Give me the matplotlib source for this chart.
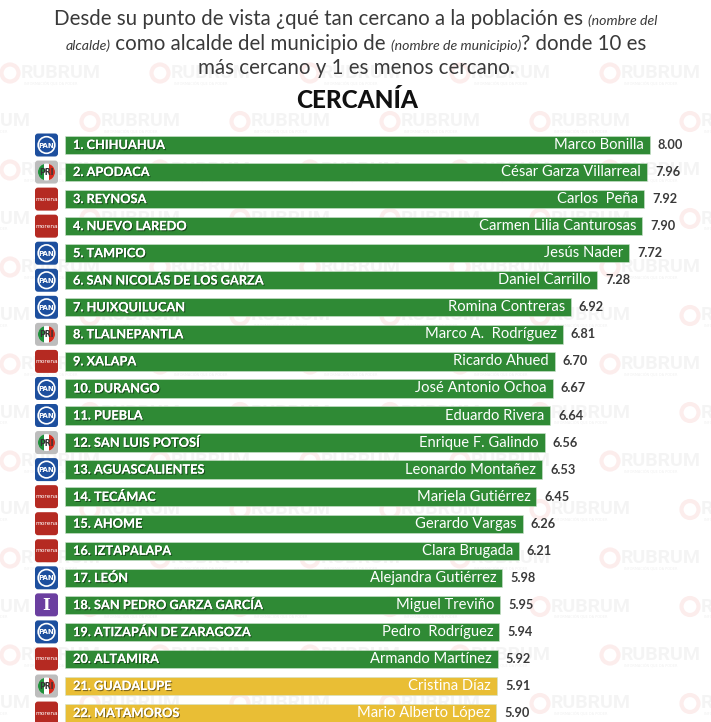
import matplotlib.pyplot as plt
import matplotlib.patches as mpatches
import matplotlib.patheffects as pe

# datos
ciudades = ['CHIHUAHUA', 'APODACA', 'REYNOSA', 'NUEVO LAREDO', 'TAMPICO',
            'SAN NICOLÁS DE LOS GARZA', 'HUIXQUILUCAN', 'TLALNEPANTLA', 'XALAPA',
            'DURANGO', 'PUEBLA', 'SAN LUIS POTOSÍ', 'AGUASCALIENTES', 'TECÁMAC',
            'AHOME', 'IZTAPALAPA', 'LEÓN', 'SAN PEDRO GARZA GARCÍA',
            'ATIZAPÁN DE ZARAGOZA', 'ALTAMIRA', 'GUADALUPE', 'MATAMOROS']
alcaldes = ['Marco Bonilla', 'César Garza Villarreal', 'Carlos  Peña',
            'Carmen Lilia Canturosas', 'Jesús Nader', 'Daniel Carrillo',
            'Romina Contreras', 'Marco A.  Rodríguez', 'Ricardo Ahued',
            'José Antonio Ochoa', 'Eduardo Rivera', 'Enrique F. Galindo',
            'Leonardo Montañez', 'Mariela Gutiérrez', 'Gerardo Vargas',
            'Clara Brugada', 'Alejandra Gutiérrez', 'Miguel Treviño',
            'Pedro  Rodríguez', 'Armando Martínez', 'Cristina Díaz',
            'Mario Alberto López']
valores = [8.00, 7.96, 7.92, 7.90, 7.72, 7.28, 6.92, 6.81, 6.70, 6.67, 6.64,
           6.56, 6.53, 6.45, 6.26, 6.21, 5.98, 5.95, 5.94, 5.92, 5.91, 5.90]
partidos = ['PAN', 'PRI', 'MORENA', 'MORENA', 'PAN', 'PAN', 'PAN', 'PRI',
            'MORENA', 'PAN', 'PAN', 'PRI', 'PAN', 'MORENA', 'MORENA', 'MORENA',
            'PAN', 'IND', 'PAN', 'MORENA', 'PRI', 'MORENA']
grupo = ['verde'] * 20 + ['amarillo'] * 2

VERDE = '#2F8A35'
AMARILLO = '#E9BE35'
GRIS = '#3a3a3a'
W, H = 711, 722

fig = plt.figure(figsize=(W / 100, H / 100), dpi=100)
fig.patch.set_facecolor('white')

# fondo en pixeles (marcas de agua y logos)
ax_bg = fig.add_axes([0, 0, 1, 1])
ax_bg.set_xlim(0, W)
ax_bg.set_ylim(H, 0)
ax_bg.axis('off')

# ejes de barras
ax = fig.add_axes([0, 0, 1, 1], zorder=1)
ax.patch.set_alpha(0)
px_x = 73.1    # pixeles por unidad
px_y = 27.05   # pixeles por fila
x0, y0 = 65, 145
ax.set_xlim(-x0 / px_x, (W - x0) / px_x)
ax.set_ylim((H - y0) / px_y, -y0 / px_y)
ax.axis('off')

# marcas de agua
for k in range(14):
    yk = 73 + 48.5 * k
    inicio = 0 if k % 2 == 0 else 80
    for xs in range(inicio - 150, W, 150):
        ax_bg.add_patch(mpatches.Circle((xs + 10, yk), 8.5, fill=False,
                                        ec='#E53935', lw=3, alpha=0.09, zorder=0))
        ax_bg.text(xs + 21, yk, 'RUBRUM', fontsize=14, fontweight='bold',
                   family='Roboto', color='#9a9a9a', alpha=0.1,
                   va='center', ha='left', zorder=0)
        ax_bg.text(xs + 24, yk + 11, 'INFORMACIÓN QUE DA PODER', fontsize=2.5,
                   color='#9a9a9a', alpha=0.15, va='center', ha='left', zorder=0)

colores = [VERDE if g == 'verde' else AMARILLO for g in grupo]
filas = list(range(len(valores)))
ax.barh(filas, valores, height=0.68, color=colores, edgecolor='#cfe3cf',
        linewidth=0.4)

sombra = [pe.withSimplePatchShadow(offset=(0.8, -0.8), shadow_rgbFace='black',
                                   alpha=0.45), pe.Normal()]
for i, (c, n, v) in enumerate(zip(ciudades, alcaldes, valores)):
    ax.text(8 / px_x, i, f'{i + 1}. {c}', color='white', fontsize=9.2,
            fontweight='bold', family='Lato', va='center', ha='left',
            path_effects=sombra)
    ax.text(v - 6 / px_x, i, n, color='white', fontsize=10.6, family='Lato',
            va='center', ha='right')
    ax.text(v + 8 / px_x, i, f'{v:.2f}', color=GRIS, fontsize=9.2,
            fontweight='bold', family='Lato', va='center', ha='left')

# logos de partido
fig.canvas.draw()
for i, p in enumerate(partidos):
    yc = H - ax.transData.transform((0, i))[1]
    xc = 46.5
    fondo = {'PAN': '#1D4F9E', 'PRI': '#BDBDBD', 'MORENA': '#B52A22',
             'IND': '#6B3FA0'}[p]
    ax_bg.add_patch(mpatches.FancyBboxPatch((35, yc - 11.5), 23, 23,
                                            boxstyle='round,pad=0,rounding_size=3',
                                            fc=fondo, ec='none', zorder=3))
    if p == 'PAN':
        ax_bg.add_patch(mpatches.Circle((xc, yc), 8.3, fill=False, ec='white',
                                        lw=1.2, zorder=4))
        ax_bg.text(xc, yc + 0.5, 'PAN', color='white', fontsize=5,
                   fontweight='bold', ha='center', va='center', zorder=5)
    elif p == 'PRI':
        circ = mpatches.Circle((xc, yc), 8.5, fc='white', ec='none', zorder=4)
        ax_bg.add_patch(circ)
        for dx, col in [(-8.5, '#1E8F3A'), (2.9, '#D52B1E')]:
            r = mpatches.Rectangle((xc + dx, yc - 9), 5.6, 18, fc=col, ec='none',
                                   zorder=4.5)
            ax_bg.add_patch(r)
            r.set_clip_path(circ)
        ax_bg.text(xc, yc + 0.5, 'PRI', color='#333333', fontsize=5.5,
                   fontweight='bold', ha='center', va='center', zorder=5)
    elif p == 'MORENA':
        ax_bg.text(xc, yc, 'morena', color='white', fontsize=4.2,
                   ha='center', va='center', zorder=5)
    else:
        ax_bg.text(xc, yc + 0.5, 'I', color='white', fontsize=12,
                   fontweight='bold', family='DejaVu Serif',
                   ha='center', va='center', zorder=5)


# titulo con partes en cursiva
def linea(y, partes, centro=356):
    textos = []
    for s, estilo in partes:
        textos.append(fig.text(0, 1 - y / H, s, va='baseline', ha='left',
                               color=GRIS, family='Lato', **estilo))
    r = fig.canvas.get_renderer()
    anchos = [t.get_window_extent(r).width for t in textos]
    x = centro - sum(anchos) / 2
    for t, w in zip(textos, anchos):
        t.set_x(x / W)
        x += w


normal = {'fontsize': 14.8}
cursiva = {'fontsize': 10.2, 'style': 'italic'}
linea(25, [('Desde su punto de vista ¿qué tan cercano a la población es ', normal),
           ('(nombre del', cursiva)])
linea(50, [('alcalde)', cursiva), (' como alcalde del municipio de ', normal),
           ('(nombre de municipio)', cursiva), ('? donde 10 es', normal)])
linea(74, [('más cercano y 1 es menos cercano.', normal)])
fig.text(357 / W, 1 - 108 / H, 'CERCANÍA', fontsize=17.5, fontweight='black',
         family='Lato', color='#111111', ha='center', va='baseline')

fig.savefig('out.png', dpi=100, facecolor='white')
